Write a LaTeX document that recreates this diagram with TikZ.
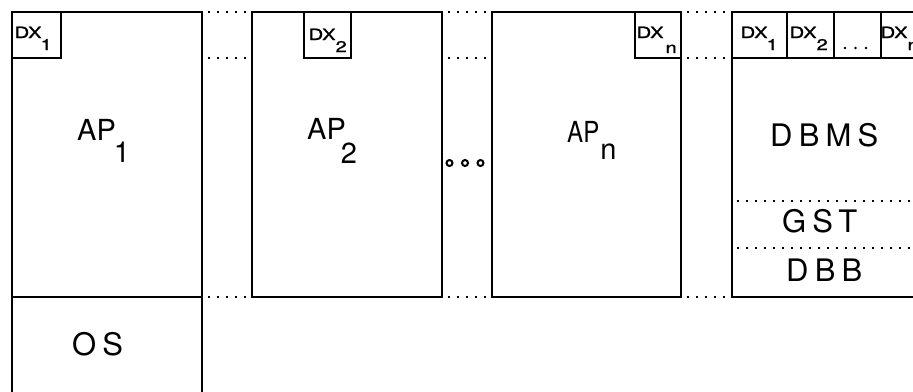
\documentclass[tikz,border=0pt]{standalone}
\usepackage{fontspec}
\setmainfont{TeX Gyre Heros}
\newfontfamily\spacedfont[LetterSpace=20]{TeX Gyre Heros}
\newfontfamily\widefont[FakeStretch=1.3,FakeBold=1.2]{TeX Gyre Heros}
\newfontfamily\narrowfont[FakeStretch=0.83]{TeX Gyre Heros}
\newcommand\dxlab[3]{{\widefont\fontsize{15.5}{18}\selectfont DX\kern#3\raisebox{#2}{#1}}}
\begin{document}
\begin{tikzpicture}[x=1pt,y=-1pt,
  box/.style={draw, line width=1.4pt, inner sep=0pt, outer sep=0pt, anchor=north west},
  dotline/.style={line width=1.6pt, dash pattern=on 1.6pt off 7.4pt, line cap=butt},
  gapdots/.style={dotline, shorten <=6pt, shorten >=5pt},
  lbl/.style={inner sep=0pt, anchor=base west, font=\fontsize{29}{30}\selectfont},
  sl/.style={inner sep=0pt, anchor=base west, font=\spacedfont\fontsize{31}{32}\selectfont},
  dxl/.style={inner sep=0pt, anchor=base west},
  ring/.style={draw, circle, line width=2pt, minimum size=6pt, inner sep=0pt}]
\useasboundingbox (0,0) rectangle (913,391);
\clip (0,0) rectangle (913,391);
% main boxes
\node[box, minimum width=190pt, minimum height=285pt] (ap1) at (12,12) {};
\node[box, minimum width=190pt, minimum height=120pt] (os) at (12,297) {};
\node[box, minimum width=190pt, minimum height=285pt] (ap2) at (252,12) {};
\node[box, minimum width=189pt, minimum height=285pt] (apn) at (492,12) {};
\node[box, minimum width=200pt, minimum height=285pt] (db) at (732,12) {};
% DX boxes
\node[box, minimum width=49pt, minimum height=46pt] (dx1) at (12,12) {};
\node[box, minimum width=47pt, minimum height=46pt] (dx2) at (304,12) {};
\node[box, minimum width=46pt, minimum height=46pt] (dxn) at (635,12) {};
\node[box, minimum width=55pt, minimum height=46pt] (ex1) at (732,12) {};
\node[box, minimum width=47pt, minimum height=46pt] (ex2) at (787,12) {};
\node[box, minimum width=47pt, minimum height=46pt] (ex3) at (834,12) {};
\node[box, minimum width=50pt, minimum height=46pt] (exn) at (881,12) {};
% dotted links between boxes
\draw[gapdots] (ap1.north east) -- (ap2.north west);
\draw[gapdots] (ap1.east |- dx1.south) -- (ap2.west |- dx1.south);
\draw[gapdots] (ap1.south east) -- (ap2.south west);
\draw[gapdots] (ap2.north east) -- (apn.north west);
\draw[gapdots] (ap2.east |- dx1.south) -- (apn.west |- dx1.south);
\draw[gapdots] (ap2.south east) -- (apn.south west);
\draw[gapdots] (apn.north east) -- (db.north west);
\draw[gapdots] (apn.east |- dx1.south) -- (db.west |- dx1.south);
\draw[gapdots] (apn.south east) -- (db.south west);
% dotted dividers in DBMS box
\coordinate (g1) at (737,201);
\coordinate (g2) at (913,201);
\coordinate (h1) at (737,248);
\coordinate (h2) at (913,248);
\draw[dotline] (g1) -- (g2);
\draw[dotline] (h1) -- (h2);
% big labels
\node[lbl] (t1) at (77,140) {AP\kern-2pt\raisebox{-22pt}{1}};
\node[lbl] (t2) at (307,139) {AP\kern-5pt\raisebox{-24pt}{2}};
\node[lbl] (tn) at (567,142) {{\narrowfont AP}\kern1pt\raisebox{-17pt}{n}};
\node[sl] (tdb) at (770,146) {DBMS};
\node[sl] (tg) at (782,232) {GST};
\node[sl] (tb) at (786,281) {DBB};
\node[sl] (tos) at (72,355) {OS};
% DX labels
\node[dxl] (l1) at (14.5,38) {\dxlab{1}{-12pt}{-1pt}};
\node[dxl] (l2) at (308.5,40) {\dxlab{2}{-12pt}{0pt}};
\node[dxl] (ln) at (636.5,38) {\dxlab{n}{-15pt}{2pt}};
\node[dxl] (m1) at (740.5,38) {\dxlab{1}{-12pt}{-1pt}};
\node[dxl] (m2) at (789.5,38) {\dxlab{2}{-12pt}{0pt}};
\node[dxl] (mn) at (880.5,38) {\dxlab{n}{-12pt}{0pt}};
% ellipsis dots in DX row
\fill (845,48) circle (1.3pt);
\fill (855.5,48) circle (1.3pt);
\fill (866,48) circle (1.3pt);
% ellipsis rings between AP2 and APn
\node[ring] (r1) at (449.5,163) {};
\node[ring] (r2) at (465,163) {};
\node[ring] (r3) at (480.5,163) {};
\end{tikzpicture}
\end{document}
